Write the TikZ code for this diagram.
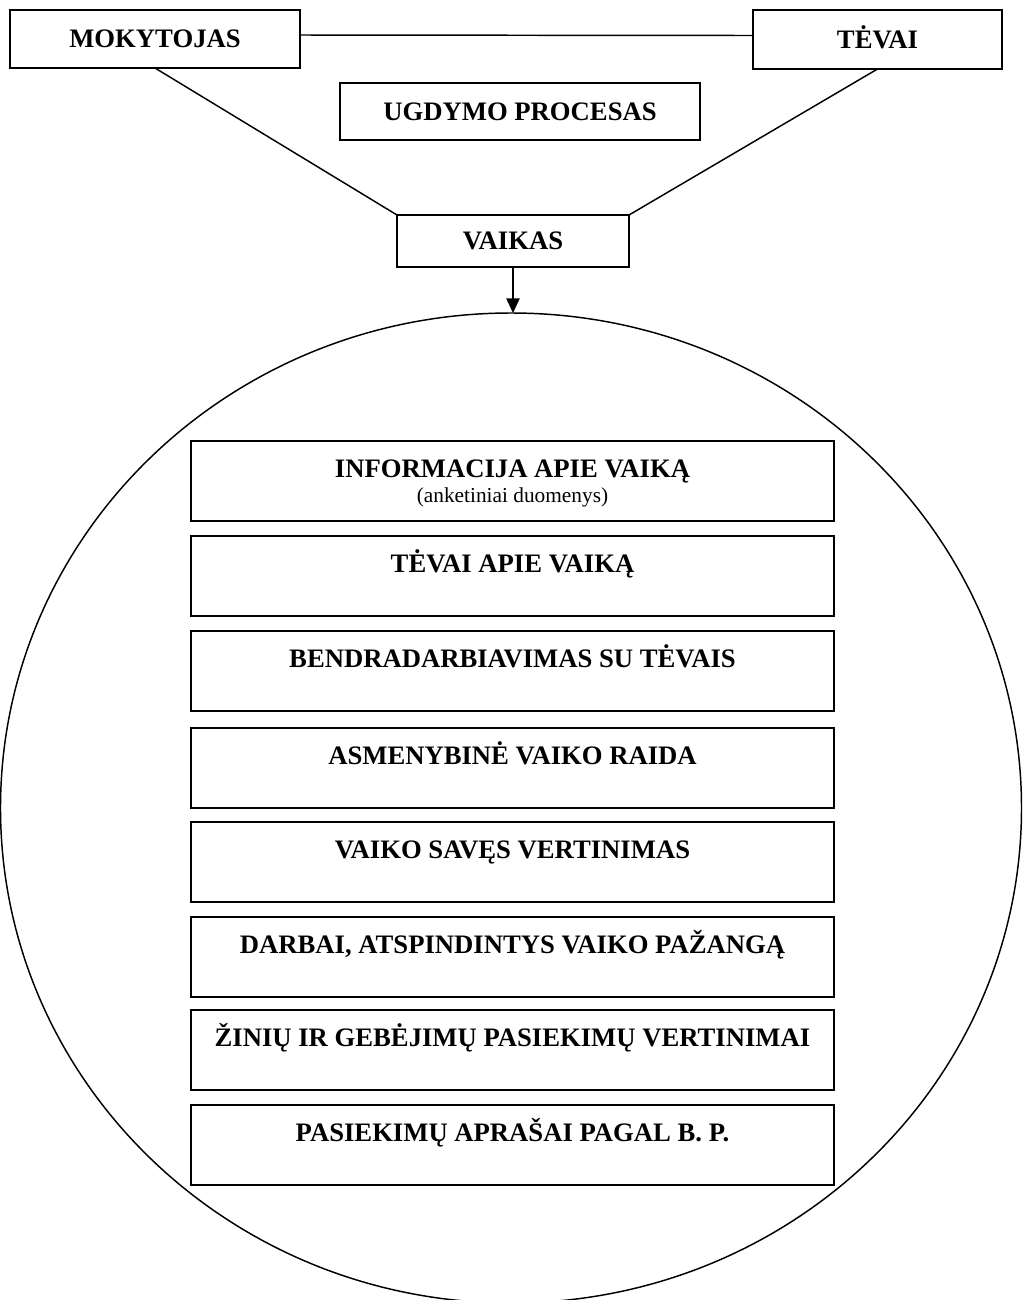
\documentclass[tikz,border=0pt]{standalone}
\usepackage{fontspec}
\setmainfont{Liberation Serif}
\usetikzlibrary{shapes.geometric,arrows.meta}

\tikzset{every picture/.style={line width=0.75pt}}
\tikzset{
  box/.style={draw, line width=1.4pt, inner sep=0pt, outer sep=0pt,
    font=\fontsize{20}{18.75}\selectfont\bfseries},
  topbox/.style={box, align=flush center, text height=13pt, text depth=0pt},
  inbox/.style={box, anchor=north, text width=482pt, align=flush center,
    text height=27pt, text depth=33pt},
  link/.style={line width=1.1pt},
}

\begin{document}
\begin{tikzpicture}[x=0.75pt,y=0.75pt,yscale=-1,xscale=1]
%set diagram left start at 0, and has height of 1300
\clip (0,0) rectangle (1022,1300);

%Shape: Ellipse
\node [draw, ellipse, line width=1.1pt, inner sep=0pt, outer sep=0pt, minimum width=765.75pt, minimum height=742.5pt] (ratas) at (511,808) {};

%Shape: Rectangle
\node [topbox, minimum width=217.5pt, minimum height=43.5pt] (mokytojas) at (155,39) {MOKYTOJAS};
%Shape: Rectangle
\node [topbox, minimum width=186.75pt, minimum height=44.25pt] (tevai) at (877.5,39.5) {TĖVAI};
%Shape: Rectangle
\node [topbox, minimum width=270pt, minimum height=42.75pt] (ugdymas) at (520,111.5) {UGDYMO PROCESAS};
%Shape: Rectangle
\node [topbox, minimum width=174pt, minimum height=39pt] (vaikas) at (513,241) {VAIKAS};

%Straight Lines
\draw [link] ([yshift=-3pt]mokytojas.east) -- ([yshift=-3pt]tevai.west) ;
%Straight Lines
\draw [link] (mokytojas.south) -- (vaikas.north west) ;
%Straight Lines
\draw [link] (tevai.south) -- (vaikas.north east) ;
%Straight Lines
\draw [link, -{Triangle[length=11pt,width=10pt]}] (vaikas.south) -- (vaikas.south |- ratas.north) ;

%Shape: Rectangle
\node [inbox] (info) at (512.5,441) {INFORMACIJA APIE VAIKĄ\\{\fontsize{16}{16}\selectfont\mdseries (anketiniai duomenys)}};
%Shape: Rectangle
\node [inbox] (tevaiapie) at (512.5,536) {TĖVAI APIE VAIKĄ};
%Shape: Rectangle
\node [inbox] (bendr) at (512.5,631) {BENDRADARBIAVIMAS SU TĖVAIS};
%Shape: Rectangle
\node [inbox] (raida) at (512.5,728) {ASMENYBINĖ VAIKO RAIDA};
%Shape: Rectangle
\node [inbox] (saves) at (512.5,822) {VAIKO SAVĘS VERTINIMAS};
%Shape: Rectangle
\node [inbox] (darbai) at (512.5,917) {DARBAI, ATSPINDINTYS VAIKO PAŽANGĄ};
%Shape: Rectangle
\node [inbox] (ziniu) at (512.5,1010) {ŽINIŲ IR GEBĖJIMŲ PASIEKIMŲ VERTINIMAI};
%Shape: Rectangle
\node [inbox] (aprasai) at (512.5,1105) {PASIEKIMŲ APRAŠAI PAGAL B. P.};

\end{tikzpicture}
\end{document}
